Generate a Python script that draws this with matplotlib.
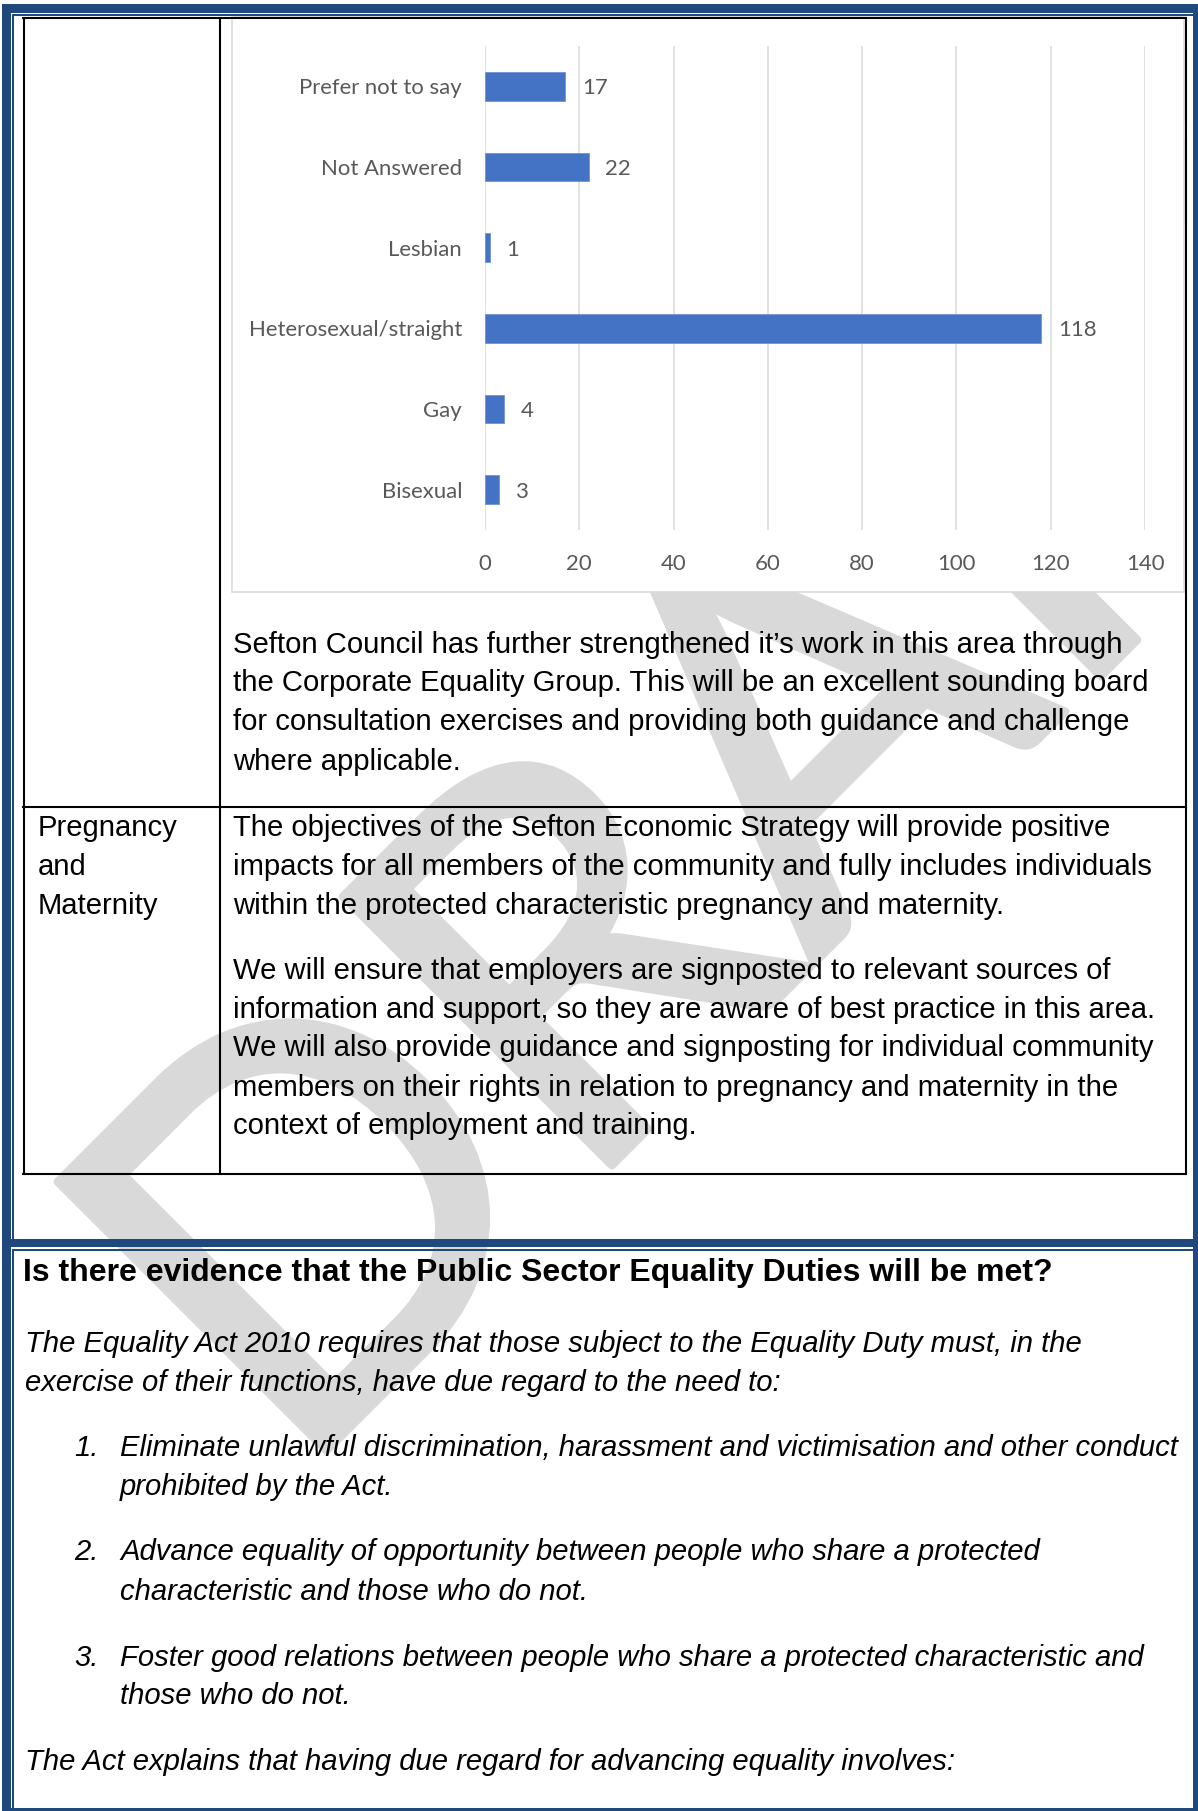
import matplotlib.pyplot as plt
from matplotlib.patches import Rectangle
import matplotlib.patheffects as pe

W, H = 1198, 1811

# chart data
categories = ["Prefer not to say", "Not Answered", "Lesbian",
              "Heterosexual/straight", "Gay", "Bisexual"]
counts = [17, 22, 1, 118, 4, 3]
x_ticks = [0, 20, 40, 60, 80, 100, 120, 140]

# document text
para_1 = [
    "Sefton Council has further strengthened it\u2019s work in this area through",
    "the Corporate Equality Group. This will be an excellent sounding board",
    "for consultation exercises and providing both guidance and challenge",
    "where applicable.",
]
row_label = ["Pregnancy", "and", "Maternity"]
para_2 = [
    "The objectives of the Sefton Economic Strategy will provide positive",
    "impacts for all members of the community and fully includes individuals",
    "within the protected characteristic pregnancy and maternity.",
]
para_3 = [
    "We will ensure that employers are signposted to relevant sources of",
    "information and support, so they are aware of best practice in this area.",
    "We will also provide guidance and signposting for individual community",
    "members on their rights in relation to pregnancy and maternity in the",
    "context of employment and training.",
]
heading = "Is there evidence that the Public Sector Equality Duties will be met?"
intro = [
    "The Equality Act 2010 requires that those subject to the Equality Duty must, in the",
    "exercise of their functions, have due regard to the need to:",
]
duties = [
    ["Eliminate unlawful discrimination, harassment and victimisation and other conduct",
     "prohibited by the Act."],
    ["Advance equality of opportunity between people who share a protected",
     "characteristic and those who do not."],
    ["Foster good relations between people who share a protected characteristic and",
     "those who do not."],
]
closing = "The Act explains that having due regard for advancing equality involves:"

NAVY = "#1F497D"
BAR = "#4472C4"
GRID = "#D9D9D9"
LABEL = "#595959"
BODY_FONT = "Liberation Sans"
CHART_FONT = "Lato"
FS = 21.1
CFS = 15.9

fig = plt.figure(figsize=(W / 100, H / 100), dpi=100)
bg = fig.add_axes([0, 0, 1, 1])
bg.set_xlim(0, W)
bg.set_ylim(H, 0)
bg.axis("off")


def box(x0, y0, x1, y1, color, z=5):
    bg.add_patch(Rectangle((x0, y0), x1 - x0, y1 - y0, facecolor=color,
                           edgecolor="none", zorder=z))


# watermark, kept inside the page frame
wm = bg.text(790, 775, "DRAFT", rotation=45, rotation_mode="anchor",
             ha="center", va="center", fontsize=382, family=CHART_FONT,
             color="#D9D9D9", zorder=1, clip_on=True,
             path_effects=[pe.Stroke(linewidth=6, foreground="#D9D9D9",
                                     joinstyle="round"), pe.Normal()])
wm.set_clip_path(Rectangle((14, 16), 1172, 1792, transform=bg.transData))

# page frame: thick outer band plus thin inner rule
box(2, 4, W, 13, NAVY)
box(2, 4, 11, H, NAVY)
box(1193, 4, W, H, NAVY)
box(2, 1239, W, 1247, NAVY)
box(2, 1808, W, H, NAVY)
box(12, 14, 1193, 15.6, NAVY)
box(12.4, 14, 14, 1239, NAVY)
box(12, 1249, 1193, 1251, NAVY)
box(12.4, 1249, 14, 1808, NAVY)

# table rules
lw_t = 1.5
for y in (17.5, 807, 1173.5):
    bg.plot([23, 1186], [y, y], color="black", lw=lw_t, zorder=4,
            solid_capstyle="projecting")
for x in (23.5, 219.5, 1185.5):
    bg.plot([x, x], [17.5, 1173.5], color="black", lw=lw_t, zorder=4,
            solid_capstyle="projecting")

# chart frame (white, hides the watermark)
bg.add_patch(Rectangle((232, 17), 952, 575, facecolor="white",
                       edgecolor=GRID, lw=1.1, zorder=3))

# bar chart
ax = fig.add_axes([485 / W, 1 - 530 / H, 660 / W, 484 / H])
ax.patch.set_visible(False)
ypos = list(range(len(categories)))
ax.barh(ypos, counts, height=0.355, color=BAR, edgecolor="#6F93D6",
        linewidth=0.6, zorder=3)
for y, v in zip(ypos, counts):
    ax.annotate(str(v), (v, y), xytext=(12, -1.5), textcoords="offset points",
                ha="left", va="center", fontsize=CFS, color=LABEL,
                family=CHART_FONT)
ax.set_xlim(0, 140)
ax.set_ylim(len(categories) - 0.5, -0.5)
ax.set_xticks(x_ticks)
ax.set_yticks(ypos, categories)
ax.grid(axis="x", color=GRID, lw=1.1)
ax.set_axisbelow(True)
for s in ax.spines.values():
    s.set_visible(False)
ax.tick_params(length=0, labelsize=CFS, labelcolor=LABEL)
ax.tick_params(axis="x", pad=17)
ax.tick_params(axis="y", pad=16.5)
for lab in ax.get_xticklabels() + ax.get_yticklabels():
    lab.set_family(CHART_FONT)


def put(x, y, s, size=FS, **kw):
    bg.text(x, y, s, fontsize=size, family=BODY_FONT, color="black",
            ha="left", va="baseline", zorder=6, **kw)


for y, s in zip([653, 691, 730.5, 769.5], para_1):
    put(233, y, s)
for y, s in zip([836.5, 874.7, 914], row_label):
    put(38, y, s)
for y, s in zip([836.5, 874.7, 914], para_2):
    put(233, y, s)
for y, s in zip([979, 1017.6, 1056.5, 1096, 1134], para_3):
    put(233, y, s)

put(23, 1281, heading, size=23, weight="bold")
for y, s in zip([1352, 1390.6], intro):
    put(25, y, s, style="italic")
item_y = [[1456, 1494.6], [1560, 1599.6], [1665.7, 1703.8]]
for n, (lines, ys) in enumerate(zip(duties, item_y), start=1):
    put(74, ys[0], f"{n}.", style="italic")
    for y, s in zip(ys, lines):
        put(120, y, s, style="italic")
put(25, 1769.7, closing, style="italic")

fig.savefig("out.png", dpi=100)
